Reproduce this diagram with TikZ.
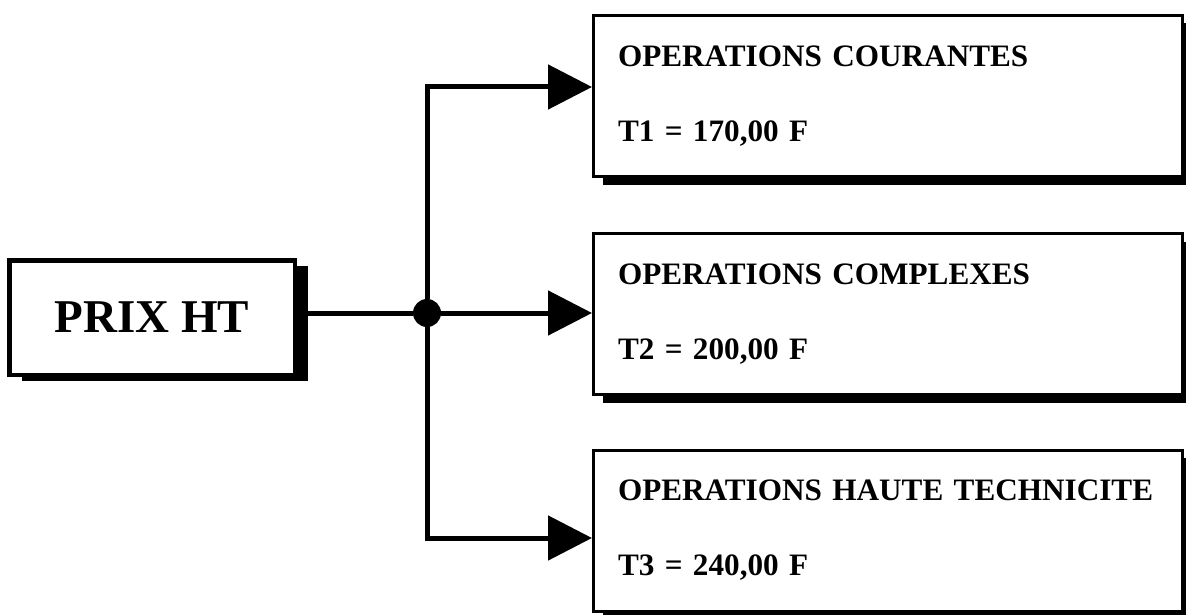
\documentclass[tikz,border=0pt]{standalone}
\usepackage{fontspec}
\setmainfont{Liberation Serif}
\usetikzlibrary{arrows.meta,shadows}

\begin{document}
\begin{tikzpicture}[x=1pt,y=-1pt]
    \tikzset{
      op/.style={
        rectangle,
        draw,
        line width=3pt,
        fill=white,
        minimum width=589pt,
        minimum height=161pt,
        inner xsep=24.5pt,
        text width=540pt,
        align=left,
        font=\fontsize{31.2pt}{75pt}\selectfont\bfseries,
        drop shadow={shadow xshift=9pt, shadow yshift=-8pt, opacity=1, fill=black}},
      prixbox/.style={
        rectangle,
        draw,
        line width=4.5pt,
        fill=white,
        minimum width=285.5pt,
        minimum height=114.5pt,
        font=\fontsize{47pt}{56pt}\selectfont\bfseries,
        drop shadow={shadow xshift=13pt, shadow yshift=-6pt, opacity=1, fill=black}},
      wire/.style={line width=5pt},
      tip/.style={wire,-{Triangle[length=44pt,width=44pt]}}}
    \useasboundingbox (0,0) rectangle (1186,615);

    \node[prixbox] at (152,317.5) (prix) {PRIX HT};
    \node[op] at (888,96) (t1) {OPERATIONS COURANTES\\T1 = 170,00 F};
    \node[op] at (888,314) (t2) {OPERATIONS COMPLEXES\\T2 = 200,00 F};
    \node[op] at (888,530.5) (t3) {OPERATIONS HAUTE TECHNICITE\\T3 = 240,00 F};
    \node at (427,313) [circle,fill,minimum size=28pt,inner sep=0pt] (dot) {};
    \coordinate (k1) at (427,87);
    \coordinate (k3) at (427,538);

    \draw[wire] (prix.east |- dot) -- (dot);
    \draw[tip] (dot) -- (k1) -- (k1 -| t1.west);
    \draw[tip] (dot) -- (t2.west |- dot);
    \draw[tip] (dot) -- (k3) -- (k3 -| t3.west);
  \end{tikzpicture}
\end{document}
